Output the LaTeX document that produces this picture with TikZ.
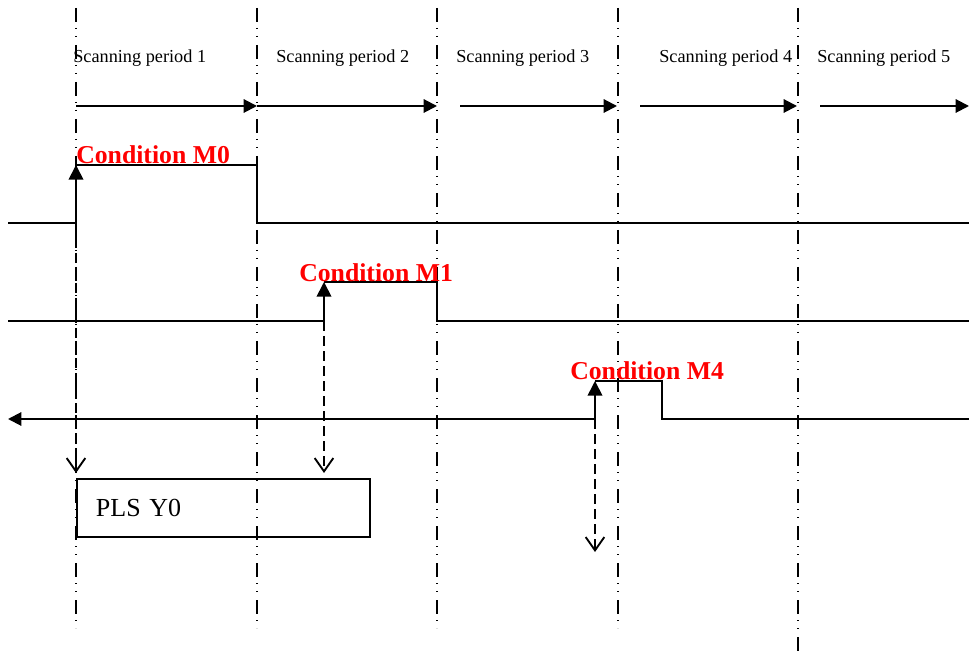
\documentclass[tikz,border=0pt]{standalone}
\usepackage{fontspec}
\setmainfont{Liberation Serif}
\usetikzlibrary{positioning,arrows.meta}

\begin{document}
\begin{tikzpicture}[
          x=0.75pt, y=-0.75pt,
          grid/.style={line width=1pt, dash pattern=on 10.5pt off 4.5pt on 0.75pt off 5.25pt on 0.75pt off 6pt},
          period/.style={font=\fontsize{13.7}{15}\selectfont, anchor=base west, inner sep=0pt},
          cond/.style={font=\bfseries\fontsize{19.3}{21}\selectfont, text=red, anchor=base west, inner sep=0pt},
          sig/.style={line width=1.1pt},
          arr/.style={-{Triangle[length=10pt, width=10pt]}, line width=1.5pt},
          rise/.style={-{Triangle[length=11pt, width=11pt]}, line width=1.3pt},
          trig/.style={-{Straight Barb[length=10pt, width=14pt]}, line width=1.4pt, dash pattern=on 7.5pt off 3.75pt},
          cmd/.style={draw, line width=1.2pt, minimum width=219.75pt, minimum height=43.5pt, anchor=north west,
                      font=\fontsize{19.5}{21}\selectfont, align=left, text width=191pt, inner xsep=14pt}
      ]
        \useasboundingbox (0,0) rectangle (969,655);
        % scan boundaries
        \foreach \x [count=\i] in {76,257,437,618,798} {
            \coordinate (gt\i) at (\x,8);
            \coordinate (gb\i) at (\x,628);
        }
        \coordinate (gb5) at (798,655);
        \foreach \i in {1,...,5} \draw[grid] (gt\i) -- (gb\i);
        \foreach \x [count=\i] in {73,276,456,659,817}
            \node[period] (per\i) at (\x,63) {Scanning period \i};
        % scan arrows
        \coordinate (sa1) at (76,106);  \coordinate (sb1) at (257,106);
        \coordinate (sa2) at (257,106); \coordinate (sb2) at (437,106);
        \coordinate (sa3) at (460,106); \coordinate (sb3) at (617,106);
        \coordinate (sa4) at (640,106); \coordinate (sb4) at (797,106);
        \coordinate (sa5) at (820,106); \coordinate (sb5) at (969,106);
        \foreach \i in {1,...,5} \draw[arr] (sa\i) -- (sb\i);
        % condition M0
        \coordinate (m0l) at (8,223);   \coordinate (m0a) at (76,223);
        \coordinate (m0b) at (76,165);  \coordinate (m0c) at (257,165);
        \coordinate (m0d) at (257,223); \coordinate (m0r) at (969,223);
        \draw[sig] (m0l) -- (m0a);
        \draw[rise] (m0a) -- (m0b);
        \draw[sig] (m0b) -- (m0c) -- (m0d) -- (m0r);
        \node[cond] (c0) at (76,164) {Condition M0};
        % condition M1
        \coordinate (m1l) at (8,321);   \coordinate (m1a) at (324,321);
        \coordinate (m1b) at (324,282); \coordinate (m1c) at (437,282);
        \coordinate (m1d) at (437,321); \coordinate (m1r) at (969,321);
        \draw[sig] (m1l) -- (m1a);
        \draw[rise] (m1a) -- (m1b);
        \draw[sig] (m1b) -- (m1c) -- (m1d) -- (m1r);
        \node[cond] (c1) at (299,282) {Condition M1};
        % condition M4
        \coordinate (m4l) at (8,419);   \coordinate (m4a) at (595,419);
        \coordinate (m4b) at (595,381); \coordinate (m4c) at (662,381);
        \coordinate (m4d) at (662,419); \coordinate (m4r) at (969,419);
        \draw[arr] (m4a) -- (m4l);
        \draw[rise] (m4a) -- (m4b);
        \draw[sig] (m4b) -- (m4c) -- (m4d) -- (m4r);
        \node[cond] (c4) at (570,379) {Condition M4};
        % output
        \node[cmd] (pls) at (76,478) {PLS Y0};
        \coordinate (p0) at (76,473);
        \coordinate (p1) at (324,473);
        \coordinate (p4) at (595,552);
        \draw[trig] (m0a) -- (p0);
        \draw[trig] (m1a) -- (p1);
        \draw[trig] (m4a) -- (p4);
      \end{tikzpicture}
\end{document}
